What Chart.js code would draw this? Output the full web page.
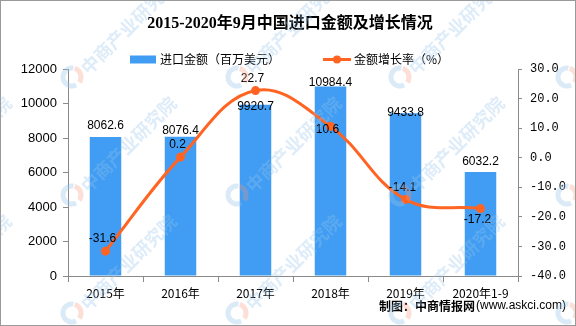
<!DOCTYPE html>
<html>
<head>
<meta charset="utf-8">
<script src="https://cdn.jsdelivr.net/npm/chart.js@4.4.0/dist/chart.umd.min.js"></script>
<style>
  html, body { margin: 0; padding: 0; background: #fff; }
  #wrap { width: 576px; height: 326px; }
</style>
</head>
<body>
<div id="wrap"><canvas id="chart" width="576" height="326"></canvas></div>
<script>
const years = ["2015年", "2016年", "2017年", "2018年", "2019年", "2020年1-9"];
const importAmount = [8062.6, 8076.4, 9920.7, 10984.4, 9433.8, 6032.2];
const growthRate = [-31.6, 0.2, 22.7, 10.6, -14.1, -17.2];

const amountAxis = { min: 0, max: 12000, step: 2000 };
const rateAxis = { min: -40, max: 30, step: 10 };

const BAR_COLOR = "#409DF3";
const LINE_COLOR = "#FF6422";
const AXIS_COLOR = "#8a8a8a";
const CJK = "'Noto Sans CJK SC'";

// small nudges so labels don't collide with the line
const barLabelLift = [11, 6, -2, 4, 1, 10];
const rateLabelPlace = ["above", "above", "above", "center", "above", "below"];

const watermark = {
  id: "watermark",
  afterDraw(chart) {
    const ctx = chart.ctx;
    const xs = [-93, 72, 237, 400, 567];
    const ys = [77, 195, 313];
    ctx.save();
    xs.forEach(x0 => {
      ys.forEach(y0 => {
        // logo ring
        ctx.lineWidth = 5;
        ctx.strokeStyle = "rgba(150,195,232,0.35)";
        ctx.beginPath();
        ctx.arc(x0, y0, 9, Math.PI * 0.35, Math.PI * 1.55);
        ctx.stroke();
        ctx.strokeStyle = "rgba(245,150,120,0.3)";
        ctx.beginPath();
        ctx.arc(x0, y0, 9, Math.PI * 1.6, Math.PI * 2.2);
        ctx.stroke();
        // name
        ctx.save();
        ctx.translate(x0 + 12, y0 - 6);
        ctx.rotate(-Math.PI / 4);
        ctx.font = "bold 18px " + CJK;
        ctx.fillStyle = "rgba(150,195,232,0.32)";
        ctx.textBaseline = "middle";
        ctx.fillText("中商产业研究院", 0, 0);
        ctx.restore();
      });
    });
    ctx.strokeStyle = "#9a9a9a";
    ctx.lineWidth = 1;
    ctx.strokeRect(0.5, 0.5, 575, 325);
    ctx.restore();
  }
};

const headerFooter = {
  id: "headerFooter",
  beforeDraw(chart) {
    const ctx = chart.ctx;
    ctx.save();
    ctx.fillStyle = "#fff";
    ctx.fillRect(0, 0, chart.width, chart.height);

    ctx.fillStyle = "#000";
    ctx.textAlign = "center";
    ctx.textBaseline = "middle";
    ctx.font = "bold 16px 'Liberation Serif', " + CJK;
    ctx.fillText("2015-2020年9月中国进口金额及增长情况", 290, 24);

    // legend
    ctx.textAlign = "left";
    ctx.font = "12px " + CJK;
    ctx.fillStyle = BAR_COLOR;
    ctx.fillRect(130, 55.5, 26, 8);
    ctx.fillStyle = "#000";
    ctx.fillText("进口金额（百万美元）", 160, 59.5);

    ctx.strokeStyle = LINE_COLOR;
    ctx.lineWidth = 3;
    ctx.beginPath();
    ctx.moveTo(323, 59.5);
    ctx.lineTo(351, 59.5);
    ctx.stroke();
    ctx.fillStyle = LINE_COLOR;
    ctx.beginPath();
    ctx.arc(337, 59.5, 4, 0, Math.PI * 2);
    ctx.fill();
    ctx.fillStyle = "#000";
    ctx.fillText("金额增长率（%）", 354, 59.5);

    // source line
    ctx.font = "bold 12px " + CJK;
    ctx.fillText("制图：中商情报网", 379, 306);
    const w = ctx.measureText("制图：中商情报网").width;
    ctx.font = "12px 'Liberation Sans'";
    ctx.fillText("(www.askci.com)", 379 + w + 1, 306);
    ctx.restore();
  }
};

const valueLabels = {
  id: "valueLabels",
  afterDatasetsDraw(chart) {
    const ctx = chart.ctx;
    ctx.save();
    ctx.fillStyle = "#000";
    ctx.textAlign = "center";
    ctx.textBaseline = "middle";
    ctx.font = "12px 'Liberation Sans'";

    const bars = chart.getDatasetMeta(0).data;
    bars.forEach((bar, i) => {
      ctx.fillText(importAmount[i].toFixed(1), bar.x, bar.y - barLabelLift[i]);
    });

    const pts = chart.getDatasetMeta(1).data;
    pts.forEach((pt, i) => {
      let dy = -12;
      if (rateLabelPlace[i] === "center") dy = 3;
      if (rateLabelPlace[i] === "below") dy = 11;
      ctx.fillText(growthRate[i].toFixed(1), pt.x - 3, pt.y + dy);
    });
    ctx.restore();
  }
};

new Chart(document.getElementById("chart"), {
  data: {
    labels: years,
    datasets: [
      {
        type: "bar",
        label: "进口金额（百万美元）",
        data: importAmount,
        backgroundColor: BAR_COLOR,
        yAxisID: "y",
        barPercentage: 0.42,
        categoryPercentage: 1,
        order: 2
      },
      {
        type: "line",
        label: "金额增长率（%）",
        data: growthRate,
        borderColor: LINE_COLOR,
        backgroundColor: LINE_COLOR,
        borderWidth: 3,
        pointRadius: 4.5,
        pointBackgroundColor: LINE_COLOR,
        pointBorderWidth: 0,
        tension: 0.4,
        yAxisID: "y1",
        order: 1
      }
    ]
  },
  options: {
    responsive: false,
    animation: false,
    layout: { padding: { top: 69, left: 0, right: 0, bottom: 0 } },
    plugins: {
      legend: { display: false },
      title: { display: false },
      tooltip: { enabled: false }
    },
    scales: {
      x: {
        offset: true,
        grid: { offset: true, drawOnChartArea: false, tickLength: 6, color: AXIS_COLOR },
        border: { color: AXIS_COLOR },
        ticks: { color: "#000", font: { family: CJK, size: 12 }, padding: 4, maxRotation: 0 },
        afterFit(s) { s.height = 50; }
      },
      y: {
        position: "left",
        min: amountAxis.min,
        max: amountAxis.max,
        grid: { drawOnChartArea: false, tickLength: 5, color: AXIS_COLOR },
        border: { color: AXIS_COLOR },
        ticks: {
          stepSize: amountAxis.step,
          color: "#000",
          font: { family: "'Liberation Sans'", size: 13 },
          padding: 6,
          callback: v => String(v)
        },
        afterFit(s) { s.width = 68; }
      },
      y1: {
        position: "right",
        min: rateAxis.min,
        max: rateAxis.max,
        grid: { drawOnChartArea: false, tickLength: 4, color: AXIS_COLOR },
        border: { color: AXIS_COLOR },
        ticks: {
          stepSize: rateAxis.step,
          color: "#000",
          font: { family: "'Liberation Mono'", size: 12 },
          padding: 8,
          callback: v => v.toFixed(1)
        },
        afterFit(s) { s.width = 58; }
      }
    }
  },
  plugins: [headerFooter, valueLabels, watermark]
});
</script>
</body>
</html>
